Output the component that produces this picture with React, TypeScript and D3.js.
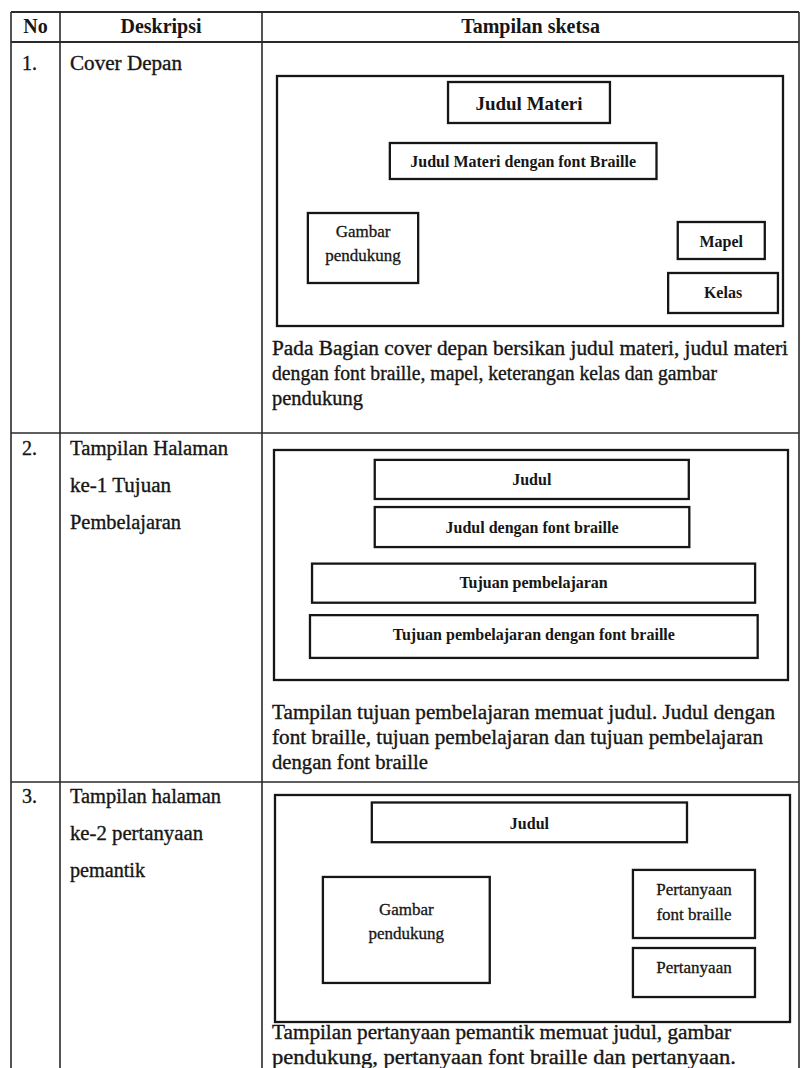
import React from "react";
import * as d3 from "d3";

// table content
const headerLabels = ["No", "Deskripsi", "Tampilan sketsa"];
const rowNumbers = ["1.", "2.", "3."];
const descLines = [
  ["Cover Depan"],
  ["Tampilan Halaman", "ke-1 Tujuan", "Pembelajaran"],
  ["Tampilan halaman", "ke-2 pertanyaan", "pemantik"],
];
const captionLines = [
  [
    "Pada Bagian cover depan bersikan judul materi, judul materi",
    "dengan font braille, mapel, keterangan kelas dan gambar",
    "pendukung",
  ],
  [
    "Tampilan tujuan pembelajaran memuat judul. Judul dengan",
    "font braille, tujuan pembelajaran dan tujuan pembelajaran",
    "dengan font braille",
  ],
  [
    "Tampilan pertanyaan pemantik memuat judul, gambar",
    "pendukung, pertanyaan font braille dan pertanyaan.",
  ],
];

// sketch boxes: extents and label baselines in percent of the sketch frame
const sketchCover = [
  { lines: ["Judul Materi"], x: [33.8, 65.8], y: [2.4, 18.8], ty: [13.6], kind: "title" },
  { lines: ["Judul Materi dengan font Braille"], x: [22.3, 75.0], y: [26.8, 41.2], ty: [36.2], kind: "field" },
  { lines: ["Gambar", "pendukung"], x: [6.1, 27.9], y: [54.8, 82.8], ty: [64.4, 74.0], kind: "plain" },
  { lines: ["Mapel"], x: [79.2, 96.4], y: [58.4, 73.2], ty: [68.4], kind: "field" },
  { lines: ["Kelas"], x: [77.3, 99.0], y: [78.8, 94.8], ty: [88.6], kind: "field" },
];
const sketchTujuan = [
  { lines: ["Judul"], x: [19.6, 80.7], y: [4.3, 21.3], ty: [15.2], kind: "field" },
  { lines: ["Judul dengan font braille"], x: [19.6, 80.8], y: [24.8, 42.2], ty: [35.9], kind: "field" },
  { lines: ["Tujuan pembelajaran"], x: [7.4, 93.6], y: [49.4, 66.4], ty: [60.2], kind: "field" },
  { lines: ["Tujuan pembelajaran dengan font braille"], x: [7.0, 94.1], y: [71.8, 90.4], ty: [82.8], kind: "field" },
];
const sketchPemantik = [
  { lines: ["Judul"], x: [18.8, 80.0], y: [3.3, 20.8], ty: [15.0], kind: "field" },
  { lines: ["Gambar", "pendukung"], x: [9.3, 41.7], y: [36.1, 82.8], ty: [52.8, 63.6], kind: "plain" },
  { lines: ["Pertanyaan", "font braille"], x: [69.5, 93.2], y: [33.0, 63.0], ty: [44.1, 55.1], kind: "plain" },
  { lines: ["Pertanyaan"], x: [69.5, 93.2], y: [67.4, 89.0], ty: [78.6], kind: "plain" },
];
const sketches = [sketchCover, sketchTujuan, sketchPemantik];

// layout
const W = 803;
const H = 1068;
const colEdges = [11, 60, 262, 799];
const rowEdges = [12, 42, 433, 782];
const frames = [
  { x: [277, 783], y: [76, 326] },
  { x: [274, 788], y: [450, 680] },
  { x: [275, 790], y: [795, 1022] },
];
const descTop = [70, 455, 803];
const descGap = 37;
const captionTop = [355, 719, 1039];
const captionGap = 24.8;
const captionWidths = [[516, 445, 91], [503, 491, 156], [459, 464]];
const descWidths = [[112], [158, 101, 111], [151, 133, 75]];
const labelStyle: Record<string, { size: number; weight: string }> = {
  title: { size: 19, weight: "bold" },
  field: { size: 16, weight: "bold" },
  plain: { size: 17, weight: "normal" },
};
const ink = "#161616";
const font = "'Liberation Serif', 'Times New Roman', serif";

export default function App() {
  const midCols = colEdges.slice(0, -1).map((c, i) => (c + colEdges[i + 1]) / 2);

  return (
    <svg width={W} height={H} style={{ position: "absolute", left: 0, top: 0, background: "#fff" }}
      fontFamily={font}>
      <rect width={W} height={H} fill="#fff" />
      {/* grid */}
      {rowEdges.map((y, i) => (
        <line key={"h" + i} x1={colEdges[0]} x2={colEdges[3]} y1={y} y2={y} stroke="#2a2a2a"
          strokeWidth={i < 2 ? 2 : 1.6} />
      ))}
      {colEdges.map((x, i) => (
        <line key={"v" + i} x1={x} x2={x} y1={rowEdges[0]} y2={H} stroke="#2a2a2a" strokeWidth={1.6} />
      ))}
      {headerLabels.map((h, i) => (
        <text key={h} x={midCols[i]} y={33} textAnchor="middle" fontWeight="bold" fontSize={20} fill={ink}>
          {h}
        </text>
      ))}

      {rowNumbers.map((n, r) => (
        <g key={n} fill={ink} stroke={ink} strokeWidth={0.35}>
          <text x={22} y={descTop[r]} fontSize={20}>{n}</text>
          {descLines[r].map((l, i) => (
            <text key={i} x={70} y={descTop[r] + i * descGap} fontSize={20}
              textLength={descWidths[r][i]} lengthAdjust="spacingAndGlyphs">{l}</text>
          ))}
          {captionLines[r].map((l, i) => (
            <text key={"c" + i} x={272} y={captionTop[r] + i * captionGap} fontSize={20}
              textLength={captionWidths[r][i]} lengthAdjust="spacingAndGlyphs">{l}</text>
          ))}
        </g>
      ))}

      {sketches.map((boxes, r) => {
        const xs = d3.scaleLinear().domain([0, 100]).range(frames[r].x);
        const ys = d3.scaleLinear().domain([0, 100]).range(frames[r].y);
        return (
          <g key={"s" + r}>
            <rect x={xs(0)} y={ys(0)} width={xs(100) - xs(0)} height={ys(100) - ys(0)}
              fill="none" stroke={ink} strokeWidth={2.3} />
            {boxes.map((b, j) => {
              const st = labelStyle[b.kind];
              return (
                <g key={j}>
                  <rect x={xs(b.x[0])} y={ys(b.y[0])} width={xs(b.x[1]) - xs(b.x[0])}
                    height={ys(b.y[1]) - ys(b.y[0])} fill="none" stroke={ink} strokeWidth={2.3} />
                  {b.lines.map((l, k) => (
                    <text key={k} x={(xs(b.x[0]) + xs(b.x[1])) / 2} y={ys(b.ty[k])}
                      textAnchor="middle" fill={ink} fontWeight={st.weight} fontSize={st.size}
                      stroke={st.weight === "normal" ? ink : "none"} strokeWidth={0.3}>
                      {l}
                    </text>
                  ))}
                </g>
              );
            })}
          </g>
        );
      })}
    </svg>
  );
}
